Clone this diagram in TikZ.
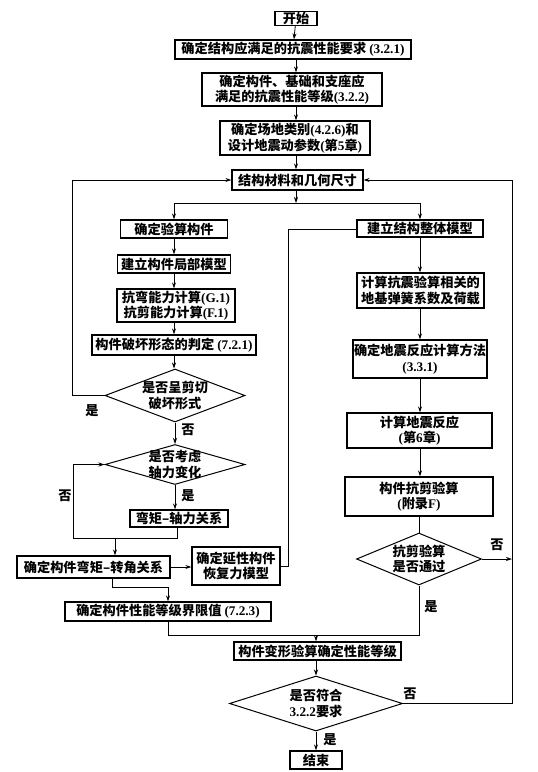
\documentclass[tikz,border=0pt]{standalone}
\usepackage{fontspec}
\setmainfont{Noto Sans CJK SC}
\newfontfamily\latf{Liberation Serif}
\usetikzlibrary{arrows.meta,shapes.geometric}
\newcommand\lat[1]{{\latf\bfseries #1}}
\newcommand\fs{\fontsize{13.2}{15.5}\selectfont\bfseries}
\begin{document}
\begin{tikzpicture}[x=1pt,y=-1pt,
  box/.style={draw, line width=1.3pt, inner sep=0pt, align=center, font=\fs},
  dia/.style={draw, diamond, line width=1pt, inner sep=0pt},
  txt/.style={inner sep=0pt, align=center, font=\fs},
  lab/.style={inner sep=0pt, font=\fs},
  ln/.style={line width=0.8pt},
  arr/.style={ln, -{Stealth[length=6pt,width=4pt]}}]
\useasboundingbox (0,0) rectangle (538,772);
% top column
\node[box, minimum width=42, minimum height=14] (start) at (296,18.5) {开始};
\node[box, minimum width=236, minimum height=19] (b1) at (293,49.5) {确定结构应满足的抗震性能要求 \lat{(3.2.1)}};
\node[box, minimum width=180, minimum height=33] (b2) at (292,89.5) {确定构件、基础和支座应\\满足的抗震性能等级\lat{(3.2.2)}};
\node[box, minimum width=150, minimum height=34] (b3) at (295,138) {确定场地类别\lat{(4.2.6)}和\\设计地震动参数\lat{(}第\lat{5}章\lat{)}};
\node[box, minimum width=131, minimum height=20] (b4) at (297.5,180) {结构材料和几何尺寸};
% left column
\node[box, minimum width=107, minimum height=18] (L1) at (174,229) {确定验算构件};
\node[box, minimum width=113, minimum height=18] (L2) at (174,264) {建立构件局部模型};
\node[box, minimum width=118, minimum height=33] (L3) at (176,305.5) {抗弯能力计算\lat{(G.1)}\\抗剪能力计算\lat{(F.1)}};
\node[box, minimum width=164, minimum height=20] (L4) at (174,345) {构件破坏形态的判定 \lat{(7.2.1)}};
\node[dia, minimum width=140, minimum height=53] (D1) at (175,395.5) {};
\node[txt] (D1t) at (175,395.5) {是否呈剪切\\破坏形式};
\node[dia, minimum width=140, minimum height=40] (D2) at (175,464.5) {};
\node[txt] (D2t) at (175,464.5) {是否考虑\\轴力变化};
\node[box, minimum width=98, minimum height=17] (L5) at (179,518.5) {弯矩–轴力关系};
\node[box, minimum width=153, minimum height=22] (L6) at (93.5,567) {确定构件弯矩–转角关系};
\node[box, minimum width=88, minimum height=38] (L7) at (236,566) {确定延性构件\\恢复力模型};
\node[box, minimum width=206, minimum height=19] (L8) at (168,611.5) {确定构件性能等级界限值 \lat{(7.2.3)}};
% right column
\node[box, minimum width=126, minimum height=17] (R1) at (420,228.5) {建立结构整体模型};
\node[box, minimum width=127, minimum height=35] (R2) at (420.5,290.5) {计算抗震验算相关的\\地基弹簧系数及荷载};
\node[box, minimum width=134, minimum height=38] (R3) at (420,359) {确定地震反应计算方法\\\lat{(3.3.1)}};
\node[box, minimum width=145, minimum height=35] (R4) at (419.5,430.5) {计算地震反应\\\lat{(}第\lat{6}章\lat{)}};
\node[box, minimum width=148, minimum height=39] (R5) at (419,496.5) {构件抗剪验算\\\lat{(}附录\lat{F)}};
\node[dia, minimum width=125, minimum height=52] (D3) at (419,559) {};
\node[txt] (D3t) at (419,559) {抗剪验算\\是否通过};
% bottom
\node[box, minimum width=167, minimum height=18] (B1) at (317.5,651) {构件变形验算确定性能等级};
\node[dia, minimum width=173, minimum height=55] (D4) at (316,703.5) {};
\node[txt] (D4t) at (316,703.5) {是否符合\\\lat{3.2.2}要求};
\node[box, minimum width=52, minimum height=18] (end) at (316,760) {结束};
% junction coordinates
\coordinate (j1) at (296,203);
\coordinate (jl) at (174,203);
\coordinate (jr) at (420,203);
\coordinate (j2) at (115,538);
\coordinate (j3) at (168,587);
\coordinate (j4) at (316,635);
% top connectors
\draw[arr] (start) -- (b1);
\draw[arr] (b1.south -| start) -- (b2.north -| start);
\draw[arr] (b2.south -| start) -- (b3.north -| start);
\draw[arr] (b3.south -| start) -- (b4.north -| start);
\draw[arr] (b4.south -| start) -- (j1);
\draw[ln] (jl) -- (jr);
\draw[arr] (jl) -- (L1.north);
\draw[arr] (jr) -- (R1.north);
% left connectors
\draw[arr] (L1) -- (L2);
\draw[arr] (L2) -- (L3.north -| L2);
\draw[arr] (L3.south -| L2) -- (L4.north -| L2);
\draw[arr] (L4.south -| L2) -- (D1.north -| L2);
\draw[arr] (D1.west) -- (72,395.5) -- (72,180) -- (b4.west);
\node[lab] (yes1) at (92,411) {是};
\draw[arr] (D1.south) -- (D2.north);
\node[lab] (no1) at (188,430) {否};
\draw[arr] (D2.south) -- (D2.south |- L5.north);
\node[lab] (yes2) at (188,496) {是};
\draw[ln] (L5.south -| 177,0) -- (177,538) -- (73,538) -- (73,464.5);
\draw[arr] (73,464.5) -- (D2.west);
\node[lab] (no2) at (65,496) {否};
\draw[arr] (j2) -- (j2 |- L6.north);
\draw[arr] (L6.east) -- (L7.west |- L6.east);
\draw[ln] (L7.east) -- (288,566) -- (288,229) -- (R1.west |- 0,229);
\draw[ln] (L6.south -| 112,0) -- (112,587) -- (j3);
\draw[arr] (j3) -- (L8.north);
\draw[ln] (L8.south) -- (168,635) -- (419,635) -- (D3.south);
\draw[arr] (j4) -- (B1.north -| j4);
% right connectors
\draw[arr] (R1) -- (R2.north -| R1);
\draw[arr] (R2.south -| R1) -- (R3.north -| R1);
\draw[arr] (R3.south -| R1) -- (R4.north -| R1);
\draw[arr] (R4.south -| R1) -- (R5.north -| R1);
\draw[ln] (R5.south -| D3) -- (D3.north);
\draw[arr] (D3.east) -- (512,559);
\node[lab] (no3) at (497,545) {否};
\node[lab] (yes3) at (431,607) {是};
% bottom connectors
\draw[arr] (B1.south -| j4) -- (D4.north);
\draw[arr] (D4.south) -- (end.north);
\node[lab] (yes4) at (330,740) {是};
\draw[arr] (D4.east) -- (512,703.5) -- (512,180) -- (b4.east);
\node[lab] (no4) at (410,694) {否};
\end{tikzpicture}
\end{document}
